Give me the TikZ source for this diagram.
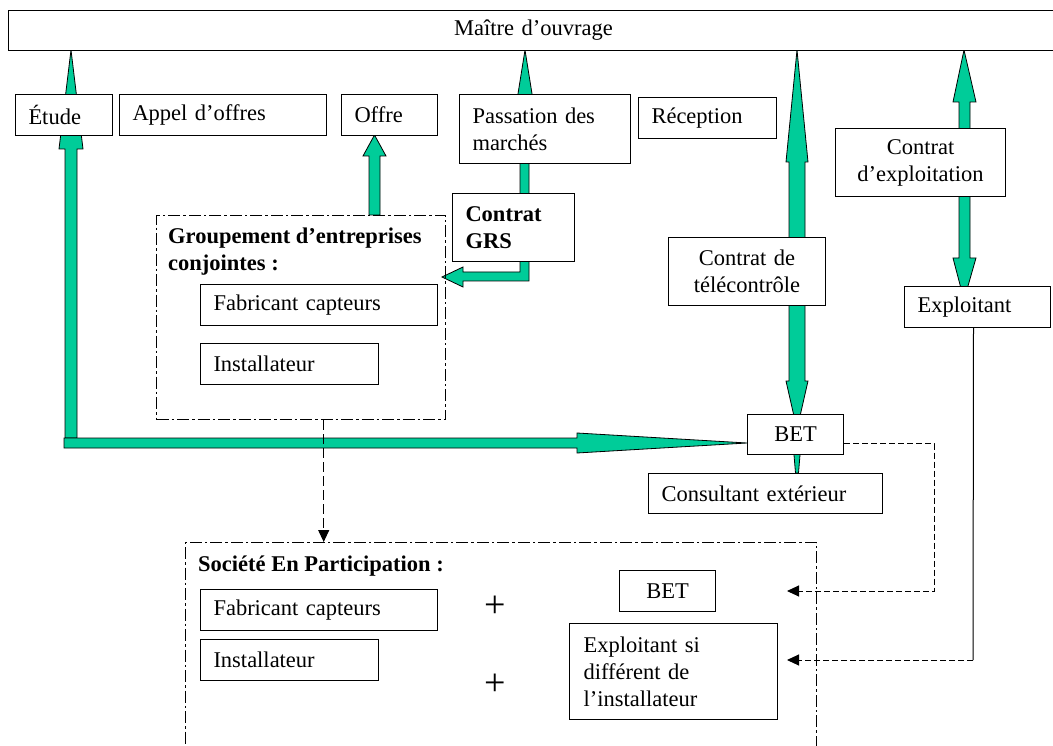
\documentclass[tikz,border=0pt]{standalone}
\usepackage{fontspec}
\setmainfont{Liberation Serif}
\usetikzlibrary{arrows.meta,calc}
\definecolor{grn}{RGB}{0,204,153}
\newcommand\fz{\fontsize{22.5}{27}\selectfont}
\tikzset{
 bx/.style={draw, line width=1pt, fill=white, inner ysep=0pt, inner xsep=13pt, font=\fz, anchor=north west, align=left},
 bxc/.style={bx, align=center},
 ga/.style={draw=black, line width=0.8pt, fill=grn, line join=miter},
 dd/.style={draw, line width=1.4pt, dash pattern=on 12pt off 3pt on 2.5pt off 3pt, anchor=north west, inner sep=0pt},
 dsh/.style={line width=1pt, dash pattern=on 6pt off 3pt},
 dshl/.style={line width=1.2pt, dash pattern=on 10pt off 4pt},
 tri/.style={-{Triangle[length=12pt,width=11pt]}},
 lbl/.style={font=\fz\bfseries, inner sep=0pt, align=left},
 plus/.style={font=\fontsize{38}{40}\selectfont, inner sep=0pt},
}
\begin{document}
\begin{tikzpicture}[x=1pt,y=-1pt]
\useasboundingbox (0,0) rectangle (1053,746);
\clip (0,0) rectangle (1053,746);
\fill[white] (0,0) rectangle (1053,746);

% green block arrows
\path[ga] (71,50) -- (83,149) -- (77,149) -- (77,438) -- (65,438) -- (65,149) -- (59,149) -- cycle;
\path[ga] (64,438) -- (577,438) -- (577,433) -- (747,443) -- (577,453) -- (577,448) -- (64,448) -- cycle;
\path[ga] (374.5,135) -- (386,156) -- (380,156) -- (380,215) -- (369,215) -- (369,156) -- (363,156) -- cycle;
\path[ga] (525,50) -- (537,125) -- (529,125) -- (529,281) -- (463,281) -- (463,287) -- (442,277) -- (463,267) -- (463,272) -- (520,272) -- (520,125) -- (513,125) -- cycle;
\path[ga] (797,50) -- (808,162) -- (805,162) -- (805,381) -- (808,381) -- (800.5,414) -- (800,455) -- (798.5,473) -- (795.5,473) -- (794,455) -- (793.5,414) -- (786,381) -- (789,381) -- (789,162) -- (786,162) -- cycle;
\path[ga] (964,50) -- (976,102) -- (970,102) -- (970,258) -- (976,258) -- (964,300) -- (953,258) -- (959,258) -- (959,102) -- (953,102) -- cycle;

% boxes
\node[bxc, minimum width=1050pt, minimum height=40pt, text width=1024pt] (mo) at (8,10) {Maître d’ouvrage};
\node[bx, minimum width=97pt, minimum height=41pt, text width=71pt] (etude) at (15,94) {Étude};
\node[bx, minimum width=207pt, minimum height=41pt, text width=181pt] (appel) at (119,94) {Appel d’offres};
\node[bx, minimum width=96pt, minimum height=41pt, text width=70pt] (offre) at (341,94) {Offre};
\node[bx, minimum width=171pt, minimum height=69pt, text width=145pt] (pass) at (459,94) {Passation des marchés};
\node[bx, minimum width=138pt, minimum height=41pt, text width=112pt] (recep) at (638,97) {Réception};
\node[bx, minimum width=122pt, minimum height=68pt, text width=96pt, font=\fz\bfseries] (grs) at (452,193) {Contrat GRS};
\node[bxc, minimum width=157pt, minimum height=68pt, text width=131pt] (tele) at (668,237) {Contrat de télécontrôle};
\node[bxc, minimum width=170pt, minimum height=68pt, text width=144pt] (expc) at (835,128) {Contrat d’exploitation};
\node[bx, minimum width=146pt, minimum height=41pt, text width=120pt] (expl) at (904,286) {Exploitant};
\node[bxc, minimum width=96pt, minimum height=40pt, text width=70pt] (bet) at (747,414) {BET};
\node[bx, minimum width=234pt, minimum height=40pt, text width=208pt] (cons) at (648,473) {Consultant extérieur};

% groupement
\node[dd, minimum width=289pt, minimum height=204pt] (grp) at (156,215) {};
\node[lbl, anchor=north west] (grplbl) at (168,228) {Groupement d’entreprises\\conjointes :};
\node[bx, minimum width=237pt, minimum height=41pt, text width=211pt] (fab1) at (200,284) {Fabricant capteurs};
\node[bx, minimum width=178pt, minimum height=41pt, text width=152pt] (inst1) at (200,343) {Installateur};

% societe
\node[dd, minimum width=631pt, minimum height=230pt] (sep) at (185,542) {};
\node[lbl, anchor=base west] (seplbl) at (198,571) {Société En Participation :};
\node[bx, minimum width=237pt, minimum height=41pt, text width=211pt] (fab2) at (200,589) {Fabricant capteurs};
\node[bx, minimum width=178pt, minimum height=41pt, text width=152pt] (inst2) at (200,639) {Installateur};
\node[bxc, minimum width=96pt, minimum height=41pt, text width=70pt] (bet2) at (619,570) {BET};
\node[bx, minimum width=208pt, minimum height=96pt, text width=180pt, inner xsep=14pt] (expsi) at (569,623) {Exploitant si différent de l’installateur};
\node[plus] (p1) at (495,607) {+};
\node[plus] (p2) at (495,685) {+};

% dashed connectors
\coordinate (betin) at (787,591);
\coordinate (expin) at (787,660);
\coordinate (ecorner) at (973,660);
\draw[dsh,tri] ([yshift=-9pt]bet.east) -| ($(betin)+(147,0)$) -- (betin);
\draw[line width=1pt] ([xshift=-4pt]expl.south) -- (ecorner);
\draw[dsh,tri] (ecorner) -- (expin);
\draw[dshl,tri] ([xshift=22.5pt]grp.south) -- ([xshift=-177.5pt]sep.north);
\end{tikzpicture}
\end{document}
